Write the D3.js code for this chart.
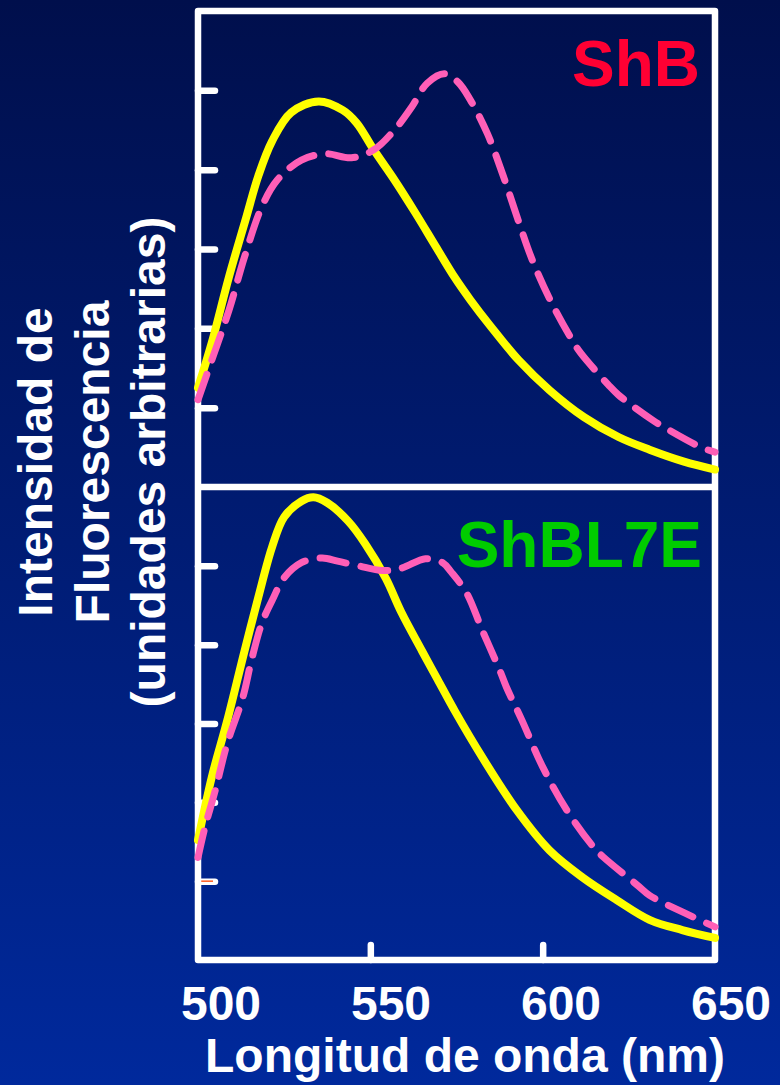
<!DOCTYPE html>
<html>
<head>
<meta charset="utf-8">
<script src="https://cdn.jsdelivr.net/npm/d3@7"></script>
<style>
  html, body { margin: 0; padding: 0; background: #001a6b; }
  svg { display: block; }
  text { font-family: "Liberation Sans", Arial, Helvetica, sans-serif; font-weight: bold; }
</style>
</head>
<body>
<svg id="chart" width="780" height="1085"></svg>
<script>
// ---------- DATA ----------
const xTickValues = [500, 550, 600, 650];
const xTickLabels = ["500", "550", "600", "650"];
const yTickValues = [1, 2, 3, 4, 5];
const panelLabels = ["ShB", "ShBL7E"];
const yLabelLines = ["Intensidad de", "Fluorescencia", "(unidades arbitrarias)"];
const xTitle = "Longitud de onda (nm)";

// ShB panel: [wavelength nm, intensity a.u.]
const shbSolid = [
  [500, 1.25], [504, 1.82], [509, 2.65], [514, 3.40], [517.5, 3.92], [521.5, 4.36],
  [527, 4.72], [535, 4.86], [542, 4.75], [546, 4.59], [551, 4.25], [557, 3.87],
  [563, 3.46], [569, 3.03], [574.5, 2.64], [579, 2.36], [585, 2.02], [593, 1.60],
  [602, 1.22], [612, 0.88], [622, 0.63], [631, 0.47], [641, 0.32], [650, 0.22]
];
const shbDashed = [
  [500, 1.10], [504, 1.60], [509, 2.23], [513.5, 2.90], [518.5, 3.53], [523, 3.87],
  [530, 4.12], [537, 4.20], [544.5, 4.15], [551, 4.25], [557, 4.50], [562, 4.79],
  [566.5, 5.09], [571.5, 5.21], [575.5, 5.10], [579, 4.88], [584, 4.45], [588.5, 3.93],
  [593, 3.35], [597, 2.86], [602.5, 2.33], [609, 1.82], [611, 1.69], [619, 1.29],
  [622, 1.16], [632, 0.84], [635, 0.76], [646, 0.50], [650, 0.44]
];
// ShBL7E panel
const l7eSolid = [
  [500, 1.52], [504, 2.32], [508.5, 3.04], [513.5, 3.92], [518.5, 4.77], [521.5, 5.24],
  [525, 5.62], [530, 5.82], [533.5, 5.87], [537.5, 5.80], [543.5, 5.57], [548.5, 5.28],
  [554.5, 4.84], [559, 4.41], [565, 3.92], [569.5, 3.56], [574.5, 3.16], [582.5, 2.57],
  [592.5, 1.90], [602, 1.39], [611.5, 1.05], [621.5, 0.76], [631, 0.51], [640.5, 0.38],
  [650, 0.28]
];
const l7eDashed = [
  [500, 1.30], [502, 1.68], [505, 2.15], [508.5, 2.75], [513, 3.33], [515.5, 3.80],
  [518.5, 4.27], [521.5, 4.56], [525, 4.85], [530, 5.04], [536, 5.10], [540.5, 5.06],
  [546.5, 5.00], [553.5, 4.94], [559, 4.97], [566, 5.09], [571, 5.04], [573.5, 4.92],
  [578, 4.65], [582.5, 4.18], [587.5, 3.68], [589.5, 3.46], [594, 3.04], [600, 2.45],
  [607, 1.90], [615, 1.42], [617.5, 1.31], [628, 0.93], [631, 0.82], [641, 0.60],
  [650, 0.42]
];

// ---------- LAYOUT ----------
(function () {
const svg = d3.select("#chart");
const W = 780, H = 1085;
const pLeft = 198, pRight = 715, pTop = 11, pMid = 487, pBottom = 960;

const defs = svg.append("defs");
const grad = defs.append("linearGradient").attr("id", "bg")
  .attr("x1", 0).attr("y1", 0).attr("x2", 0).attr("y2", 1);
grad.append("stop").attr("offset", "0%").attr("stop-color", "#000f4c");
grad.append("stop").attr("offset", "100%").attr("stop-color", "#00299c");
svg.append("rect").attr("width", W).attr("height", H).attr("fill", "url(#bg)");

const x = d3.scaleLinear().domain([500, 650]).range([pLeft, pRight]);
const xLabelPos = d3.scaleLinear().domain([500, 650]).range([221, 731]);
const yTop = d3.scaleLinear().domain([0, 6]).range([pMid, pTop]);
const yBot = d3.scaleLinear().domain([0, 6]).range([pBottom, pMid]);

const white = "#ffffff";
const frameW = 6.5;

// y ticks
[yTop, yBot].forEach(ys => {
  const ax = d3.axisRight(ys).tickValues(yTickValues).tickSize(17).tickFormat("");
  const g = svg.append("g").attr("transform", `translate(${pLeft},0)`).call(ax);
  g.select(".domain").remove();
  g.selectAll(".tick line").attr("stroke", white).attr("stroke-width", 6.5).attr("stroke-linecap", "round");
});
// small orange artefact on lowest tick of lower panel
svg.append("line")
  .attr("x1", x(500) + 1).attr("x2", x(500) + 15)
  .attr("y1", yBot(1)).attr("y2", yBot(1))
  .attr("stroke", "#ff5a1e").attr("stroke-width", 1.5);

// x ticks (inner)
const xa = d3.axisTop(x).tickValues([550, 600]).tickSize(15).tickFormat("");
const gx = svg.append("g").attr("transform", `translate(0,${pBottom})`).call(xa);
gx.select(".domain").remove();
gx.selectAll(".tick line").attr("stroke", white).attr("stroke-width", 6.5).attr("stroke-linecap", "round");

// frame
svg.append("rect")
  .attr("x", pLeft).attr("y", pTop).attr("width", pRight - pLeft).attr("height", pBottom - pTop)
  .attr("fill", "none").attr("stroke", white).attr("stroke-width", frameW)
  .attr("stroke-linejoin", "round");
svg.append("line")
  .attr("x1", pLeft).attr("x2", pRight).attr("y1", pMid).attr("y2", pMid)
  .attr("stroke", white).attr("stroke-width", 6.5);

// curves
function drawCurve(data, ys, color, dashed) {
  const line = d3.line().x(d => x(d[0])).y(d => ys(d[1])).curve(d3.curveCatmullRom.alpha(0.5));
  const p = svg.append("path").datum(data).attr("d", line)
    .attr("fill", "none").attr("stroke", color)
    .attr("stroke-width", dashed ? 7 : 8)
    .attr("stroke-linecap", "round").attr("stroke-linejoin", "round");
  if (dashed) p.attr("stroke-dasharray", "27,15");
}
drawCurve(shbSolid, yTop, "#ffff00", false);
drawCurve(shbDashed, yTop, "#ff5fb7", true);
drawCurve(l7eSolid, yBot, "#ffff00", false);
drawCurve(l7eDashed, yBot, "#ff5fb7", true);

// panel labels
svg.append("text").text(panelLabels[0])
  .attr("x", 700).attr("y", 86).attr("text-anchor", "end")
  .attr("font-size", 64).attr("fill", "#ff0033");
svg.append("text").text(panelLabels[1])
  .attr("x", 702).attr("y", 567).attr("text-anchor", "end")
  .attr("font-size", 64).attr("fill", "#00cc00");

// x tick labels
svg.append("g").selectAll("text").data(xTickValues).join("text")
  .attr("x", d => xLabelPos(d)).attr("y", 1020)
  .attr("text-anchor", "middle").attr("font-size", 48).attr("fill", white)
  .text((d, i) => xTickLabels[i]);

// x title
svg.append("text").text(xTitle)
  .attr("x", 465).attr("y", 1072).attr("text-anchor", "middle")
  .attr("font-size", 48).attr("fill", white);

// y title (rotated)
const yBase = [52, 109, 165];
yLabelLines.forEach((t, i) => {
  svg.append("text").text(t)
    .attr("transform", `translate(${yBase[i]},462) rotate(-90)`)
    .attr("text-anchor", "middle").attr("font-size", 48).attr("fill", white);
});
})();
</script>
</body>
</html>
